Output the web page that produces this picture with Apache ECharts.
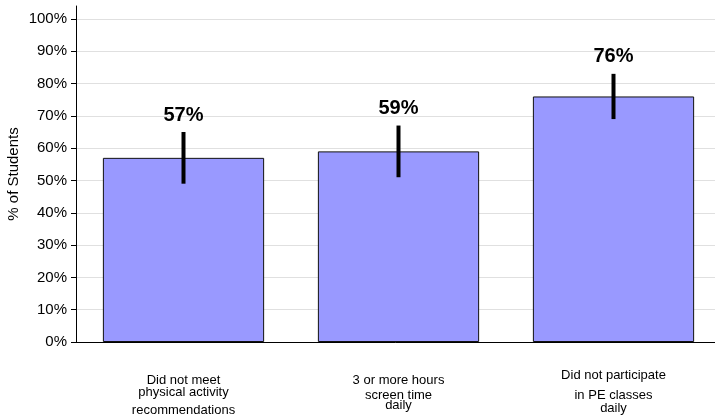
<!DOCTYPE html>
<html lang="en">
<head>
    <meta charset="utf-8">
    <title>% of Students</title>
    <script type="text/javascript" src="https://cdn.jsdelivr.net/npm/echarts@6/dist/echarts.min.js"></script>
    <style>
        html, body { margin: 0; padding: 0; background: #fff; }
        #main { width: 715px; height: 419px; }
    </style>
</head>
<body>
<div id="main"></div>
<script>
    // data
    var categories = ['Did not meet physical activity recommendations', '3 or more hours screen time daily', 'Did not participate in PE classes daily'];
    var labelLines = [
        ['Did not meet', 'physical activity', 'recommendations'],
        ['3 or more hours', 'screen time', 'daily'],
        ['Did not participate', 'in PE classes', 'daily']
    ];
    var values = [57, 59, 76];
    var errLow = [49, 51, 69];
    var errHigh = [65, 67, 83];
    var yTicks = [0, 10, 20, 30, 40, 50, 60, 70, 80, 90, 100];

    var font = 'Liberation Sans, Arial, sans-serif';

    // per-line heights so the labels sit like the original
    var lineHeights = [[24, 1, 35], [24, 6, 14], [14, 26, 1]];
    var rich = {};
    lineHeights.forEach(function (lhs, i) {
        lhs.forEach(function (lh, j) {
            rich['c' + i + 'l' + j] = { fontSize: 13, lineHeight: lh, color: '#000', fontFamily: font };
        });
    });

    var chart = echarts.init(document.getElementById('main'));
    var option = {
        animation: false,
        grid: { left: 76, top: 6, bottom: 77, width: 645, containLabel: false, outerBoundsMode: 'none' },
        xAxis: {
            type: 'category',
            data: categories,
            axisLine: { lineStyle: { color: '#000', width: 1 } },
            axisTick: { show: false },
            axisLabel: {
                margin: 26,
                interval: 0,
                formatter: function (v, idx) {
                    return labelLines[idx].map(function (t, j) {
                        return '{c' + idx + 'l' + j + '|' + t + '}';
                    }).join('\n');
                },
                rich: rich
            }
        },
        yAxis: {
            type: 'value',
            min: 0,
            max: 104,
            interval: 10,
            name: '% of Students',
            nameLocation: 'middle',
            nameGap: 55,
            nameMoveOverlap: false,
            nameRotate: 90,
            nameTextStyle: { fontSize: 15, color: '#000', fontFamily: font },
            axisLine: { show: true, lineStyle: { color: '#000' } },
            axisTick: { show: true, length: 5, lineStyle: { color: '#000' } },
            axisLabel: {
                fontSize: 15,
                color: '#000',
                fontFamily: font,
                margin: 9,
                showMaxLabel: false,
                formatter: function (v) { return yTicks.indexOf(v) >= 0 ? v + '%' : ''; }
            },
            splitLine: { show: true, showMaxLine: false, lineStyle: { color: '#e0e0e0', width: 1 } }
        },
        series: [
            {
                type: 'bar',
                data: values,
                barCategoryGap: '25%',
                itemStyle: { color: '#9999ff', borderColor: '#111', borderWidth: 1 }
            },
            {
                type: 'custom',
                data: values.map(function (v, i) { return [i, errLow[i], errHigh[i], v]; }),
                renderItem: function (params, api) {
                    var lo = api.coord([api.value(0), api.value(1)]);
                    var hi = api.coord([api.value(0), api.value(2)]);
                    return {
                        type: 'group',
                        children: [
                            {
                                type: 'line',
                                shape: { x1: hi[0], y1: hi[1], x2: lo[0], y2: lo[1] },
                                style: { stroke: '#000', lineWidth: 4 }
                            },
                            {
                                type: 'text',
                                x: hi[0],
                                y: hi[1] - 17,
                                style: {
                                    text: api.value(3) + '%',
                                    fontSize: 20,
                                    fontWeight: 'bold',
                                    fontFamily: font,
                                    fill: '#000',
                                    align: 'center',
                                    verticalAlign: 'middle'
                                }
                            }
                        ]
                    };
                },
                z: 3
            }
        ]
    };
    chart.setOption(option);
</script>
</body>
</html>
